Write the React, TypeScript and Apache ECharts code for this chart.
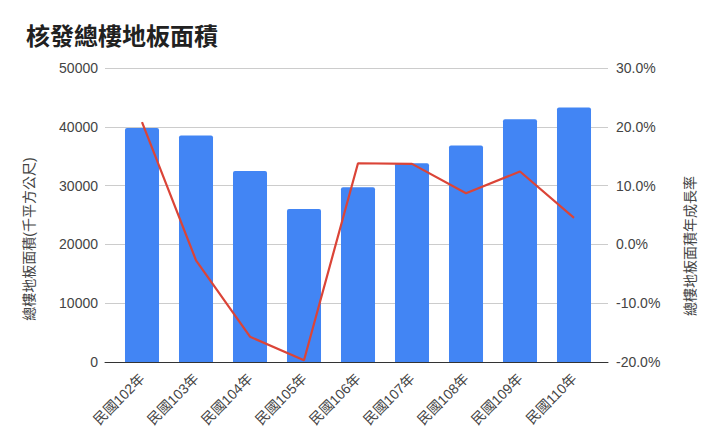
import React, { useEffect, useRef } from "react";
import * as echarts from "echarts";

const categories = [
  "民國102年", "民國103年", "民國104年", "民國105年", "民國106年",
  "民國107年", "民國108年", "民國109年", "民國110年",
];
// 總樓地板面積(千平方公尺)
const floorArea = [39800, 38500, 32500, 26000, 29700, 33800, 36800, 41300, 43300];
// 年成長率 (%)
const growthRate = [20.8, -2.7, -15.7, -19.7, 13.8, 13.7, 8.7, 12.4, 4.5];

const leftName = "總樓地板面積(千平方公尺)";
const rightName = "總樓地板面積年成長率";

const FONT = "'Liberation Sans', Arial, 'Noto Sans CJK TC', sans-serif";

const App = () => {
  const chartRef = useRef<HTMLDivElement>(null);

  useEffect(() => {
    document.body.style.margin = "0";
    const chart = echarts.init(chartRef.current, null, { renderer: "svg" });

    chart.setOption({
      animation: false,
      backgroundColor: "#fff",
      textStyle: { fontFamily: FONT },
      title: {
        text: "核發總樓地板面積",
        left: 21,
        top: 19,
        textStyle: { fontSize: 24, fontWeight: "bold", color: "#212121", fontFamily: FONT },
      },
      // axis titles sit lower than the plot centre in the original
      graphic: [
        {
          type: "text",
          x: 29,
          y: 239,
          rotation: Math.PI / 2,
          style: {
            text: leftName,
            fill: "#444",
            font: `14px ${FONT}`,
            align: "center",
            verticalAlign: "middle",
          },
        },
        {
          type: "text",
          x: 690,
          y: 246,
          rotation: Math.PI / 2,
          style: {
            text: rightName,
            fill: "#444",
            font: `14px ${FONT}`,
            align: "center",
            verticalAlign: "middle",
          },
        },
      ],
      // grid 0: frame, gridlines and axis labels; grid 1: the data, inset like the original
      grid: [
        { left: 105, right: 112, top: 68, bottom: 83 },
        { left: 115, right: 119, top: 68, bottom: 83 },
      ],
      xAxis: [
        {
          gridIndex: 0,
          type: "value",
          min: 0,
          max: 1,
          axisLabel: { show: false },
          axisTick: { show: false },
          splitLine: { show: false },
          axisLine: { show: true, onZero: false, lineStyle: { color: "#333", width: 1 } },
        },
        {
          gridIndex: 1,
          type: "category",
          data: categories,
          axisTick: { show: false },
          axisLine: { show: false },
          axisLabel: { rotate: 45, color: "#444", fontSize: 14, margin: 14 },
        },
      ],
      yAxis: [
        {
          gridIndex: 0,
          type: "value",
          min: 0,
          max: 50000,
          interval: 10000,
          axisLabel: { color: "#444", fontSize: 14, margin: 7, formatter: (v: number) => String(v) },
          axisLine: { show: false },
          axisTick: { show: false },
          splitLine: { lineStyle: { color: "#ccc" } },
        },
        {
          gridIndex: 0,
          type: "value",
          min: -20,
          max: 30,
          interval: 10,
          position: "right",
          axisLabel: {
            color: "#444",
            fontSize: 14,
            margin: 8,
            formatter: (v: number) => v.toFixed(1) + "%",
          },
          axisLine: { show: false },
          axisTick: { show: false },
          splitLine: { show: false },
        },
        {
          gridIndex: 1,
          type: "value",
          min: 0,
          max: 50000,
          show: false,
        },
        {
          gridIndex: 1,
          type: "value",
          min: -20,
          max: 30,
          show: false,
        },
      ],
      series: [
        {
          type: "bar",
          xAxisIndex: 1,
          yAxisIndex: 2,
          data: floorArea,
          barWidth: "63%",
          itemStyle: { color: "#4285F4", borderRadius: [2, 2, 0, 0] },
        },
        {
          type: "line",
          xAxisIndex: 1,
          yAxisIndex: 3,
          data: growthRate,
          symbol: "none",
          lineStyle: { color: "#DB4437", width: 2.2 },
        },
      ],
    });

    return () => {
      chart.dispose();
    };
  }, []);

  return <div ref={chartRef} style={{ width: "720px", height: "445px" }} />;
};

export default App;
